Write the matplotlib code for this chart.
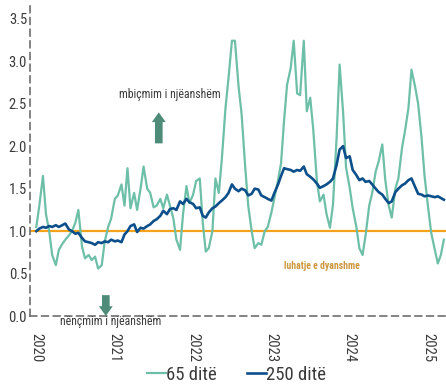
import matplotlib
matplotlib.use('Agg')
import matplotlib.pyplot as plt
import matplotlib.dates as mdates
import pandas as pd

plt.rcParams['font.family'] = ['Roboto Condensed', 'Liberation Sans Narrow', 'DejaVu Sans']
plt.rcParams['font.stretch'] = 'condensed'

# Datat: dy mesatare levizese (65 dite dhe 250 dite), gjysme-mujore
datat = pd.date_range('2020-01-01', '2025-03-15', freq='SMS')

dite_65 = [
    1.05, 1.30, 1.65, 1.20, 1.00, 0.72, 0.60, 0.78, 0.85, 0.90,
    0.95, 1.00, 1.10, 1.25, 0.82, 0.68, 0.72, 0.66, 0.70, 0.56,
    0.60, 0.88, 1.05, 1.15, 1.38, 1.42, 1.55, 1.30, 1.74, 1.27,
    1.45, 1.25, 1.50, 1.76, 1.50, 1.45, 1.28, 1.30, 1.38, 1.27,
    1.43, 1.30, 1.15, 0.90, 0.78, 1.20, 1.53, 1.33, 1.43, 1.59,
    1.62, 1.10, 0.76, 0.80, 1.00, 1.62, 1.45, 1.85, 2.45, 2.80,
    3.24, 3.24, 2.70, 2.38, 1.75, 1.30, 1.00, 0.80, 0.86, 0.84,
    1.00, 1.05, 1.22, 1.39, 1.60, 1.80, 2.30, 2.72, 2.92, 3.24,
    2.62, 2.60, 3.24, 2.41, 2.57, 2.20, 1.59, 1.35, 1.43, 1.20,
    1.04, 1.31, 2.10, 2.96, 2.41, 1.75, 1.51, 1.27, 1.05, 0.80,
    0.72, 0.95, 1.30, 1.45, 1.70, 1.82, 2.02, 1.60, 1.30, 1.16,
    1.50, 1.62, 1.98, 2.18, 2.45, 2.90, 2.70, 2.50, 2.10, 1.65,
    1.27, 0.98, 0.78, 0.62, 0.72, 0.90,
]

dite_250 = [
    1.00, 1.03, 1.05, 1.04, 1.06, 1.05, 1.07, 1.05, 1.07, 1.09,
    1.02, 1.00, 0.97, 0.98, 0.92, 0.88, 0.87, 0.86, 0.84, 0.87,
    0.86, 0.88, 0.87, 0.90, 0.88, 0.89, 0.87, 0.96, 1.00, 1.06,
    1.08, 0.99, 1.04, 1.03, 1.06, 1.08, 1.12, 1.14, 1.18, 1.24,
    1.20, 1.26, 1.27, 1.25, 1.35, 1.32, 1.38, 1.34, 1.32, 1.27,
    1.28, 1.18, 1.16, 1.22, 1.27, 1.29, 1.33, 1.36, 1.40, 1.45,
    1.55, 1.50, 1.47, 1.50, 1.48, 1.42, 1.44, 1.50, 1.49, 1.42,
    1.40, 1.38, 1.36, 1.45, 1.55, 1.65, 1.74, 1.73, 1.72, 1.70,
    1.72, 1.71, 1.76, 1.67, 1.64, 1.61, 1.56, 1.51, 1.53, 1.55,
    1.58, 1.62, 1.78, 1.96, 2.00, 1.86, 1.88, 1.72, 1.66, 1.60,
    1.62, 1.58, 1.59, 1.55, 1.50, 1.46, 1.43, 1.38, 1.33, 1.35,
    1.46, 1.50, 1.54, 1.56, 1.60, 1.62, 1.52, 1.44, 1.43, 1.41,
    1.42, 1.41, 1.40, 1.41, 1.39, 1.37,
]

nivel_baze = 1.0
y_ticks = [0.0, 0.5, 1.0, 1.5, 2.0, 2.5, 3.0, 3.5]

ngjyra_65 = '#6dbfa8'
ngjyra_250 = '#0d4f8a'
ngjyra_baze = '#f5a21b'
ngjyra_shigjete = '#4e8b79'
ngjyra_teksti = '#3a3a3a'

fig = plt.figure(figsize=(4.46, 3.87), dpi=100)
ax = fig.add_axes([0.067, 0.183, 0.933, 0.804])

# Vijat
ax.axhline(nivel_baze, color=ngjyra_baze, lw=1.6, zorder=1)
ax.plot(datat, dite_65, color=ngjyra_65, lw=1.6, label='65 ditë', zorder=2)
ax.plot(datat, dite_250, color=ngjyra_250, lw=1.9, label='250 ditë', zorder=3)

# Kufijte
ax.set_xlim(pd.Timestamp('2019-12-02'), pd.Timestamp('2025-03-25'))
ax.set_ylim(0, 3.66)

# Boshtet me vija te nderprera
for s in ['top', 'right']:
    ax.spines[s].set_visible(False)
for s in ['left', 'bottom']:
    ax.spines[s].set_linestyle((0, (4, 3)))
    ax.spines[s].set_color('#6e6e6e')
    ax.spines[s].set_linewidth(1.2)

ax.set_yticks(y_ticks)
ax.set_yticklabels([f'{v:.1f}' for v in y_ticks])
ax.xaxis.set_major_locator(mdates.YearLocator())
ax.xaxis.set_major_formatter(mdates.DateFormatter('%Y'))
ax.tick_params(axis='both', length=0, labelsize=10.5, colors=ngjyra_teksti)
ax.tick_params(axis='x', labelrotation=270, pad=12)
ax.tick_params(axis='y', pad=2)

# Shenimet
ax.text(pd.Timestamp('2021-09-15'), 2.61, 'mbiçmim i njëanshëm', ha='center',
        va='center', fontsize=8.5, color=ngjyra_teksti)
ax.annotate('', xy=(pd.Timestamp('2021-07-25'), 2.43),
            xytext=(pd.Timestamp('2021-07-25'), 2.0),
            arrowprops=dict(arrowstyle='simple,head_width=1.0,head_length=0.7,tail_width=0.55',
                            color=ngjyra_shigjete, lw=0))
ax.annotate('', xy=(pd.Timestamp('2020-11-20'), -0.03),
            xytext=(pd.Timestamp('2020-11-20'), 0.28),
            arrowprops=dict(arrowstyle='simple,head_width=1.0,head_length=0.7,tail_width=0.55',
                            color=ngjyra_shigjete, lw=0),
            annotation_clip=False)
ax.text(pd.Timestamp('2020-12-13'), -0.065, 'nënçmim i njëanshëm', ha='center',
        va='center', fontsize=8.5, color=ngjyra_teksti, clip_on=False)
ax.text(pd.Timestamp('2023-08-25'), 0.59, 'luhatje e dyanshme', ha='center',
        va='center', fontsize=7, fontweight='bold', color='#cc963e')

# Legjenda
fig.legend(loc='lower center', bbox_to_anchor=(0.53, -0.035), ncol=2,
           frameon=False, fontsize=13.5, handlelength=1.0, handletextpad=0.0,
           columnspacing=1.6, labelcolor=ngjyra_teksti)

fig.savefig('out.png', dpi=100)
